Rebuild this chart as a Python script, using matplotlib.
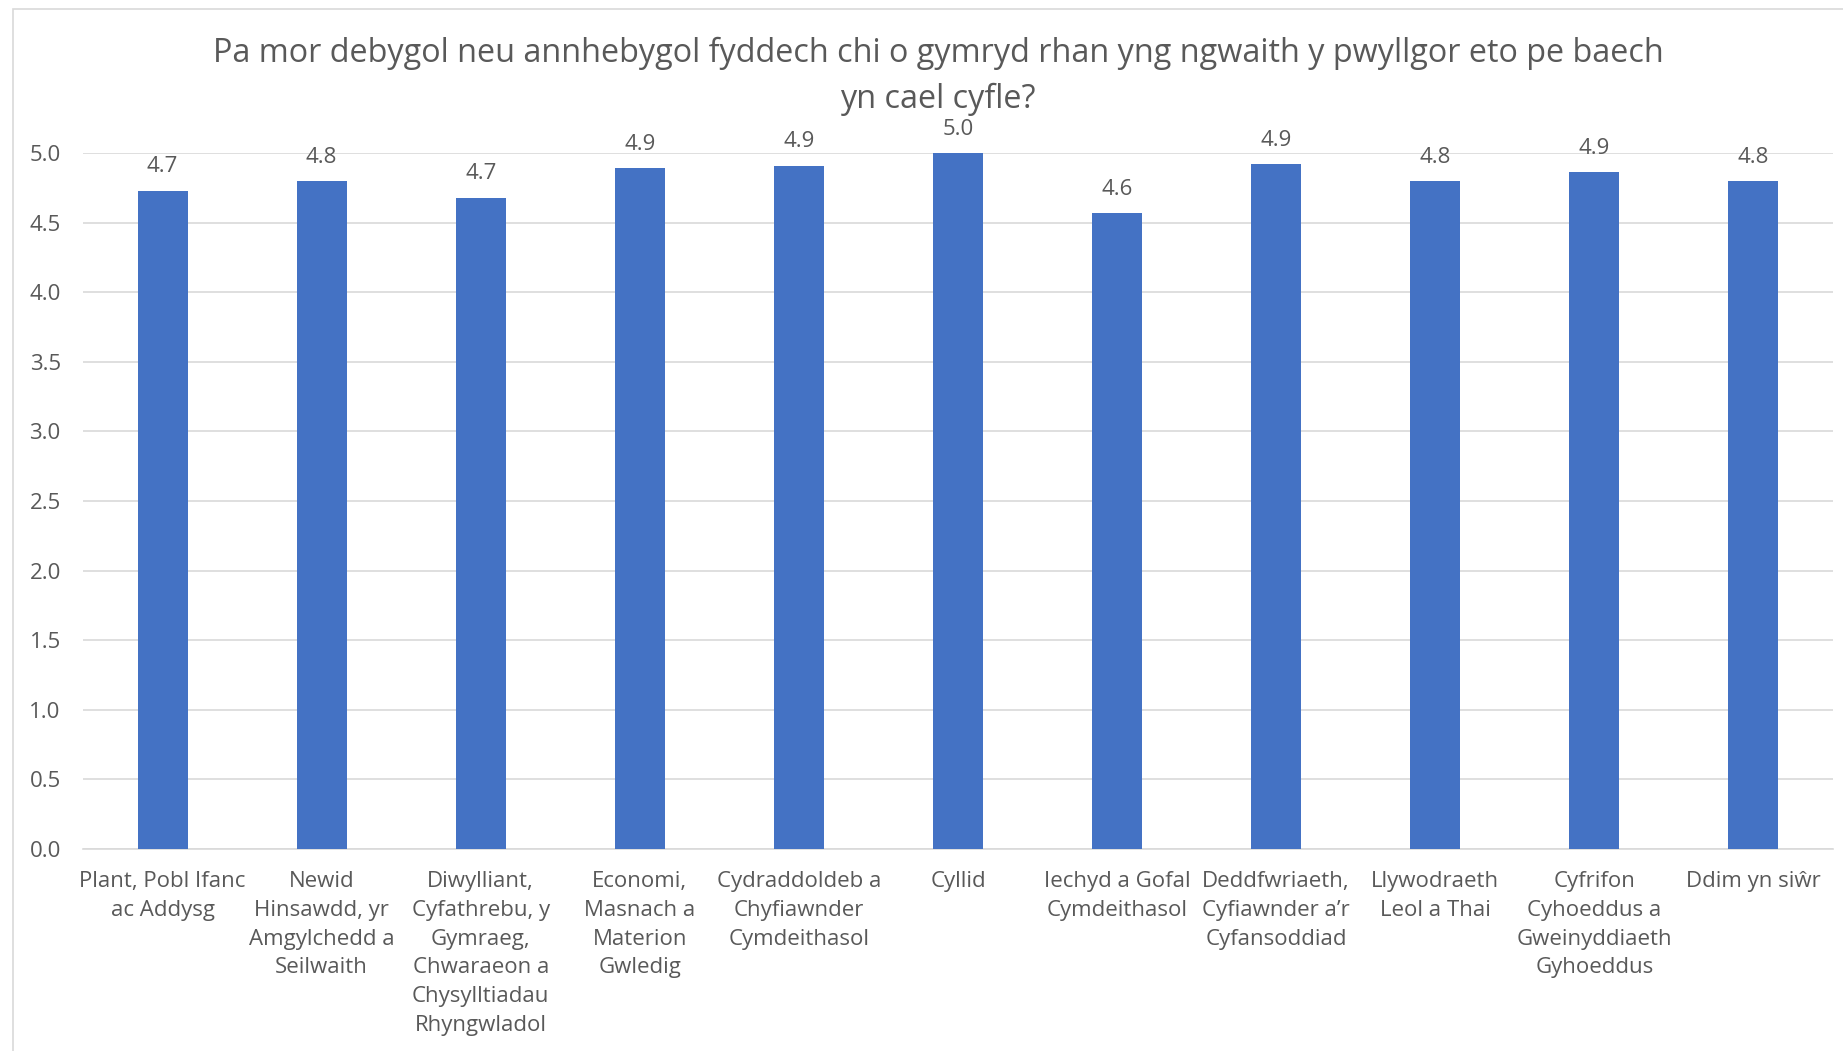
import matplotlib.pyplot as plt
from matplotlib.patches import Rectangle
import numpy as np

categories = [
    "Plant, Pobl Ifanc\nac Addysg",
    "Newid\nHinsawdd, yr\nAmgylchedd a\nSeilwaith",
    "Diwylliant,\nCyfathrebu, y\nGymraeg,\nChwaraeon a\nChysylltiadau\nRhyngwladol",
    "Economi,\nMasnach a\nMaterion\nGwledig",
    "Cydraddoldeb a\nChyfiawnder\nCymdeithasol",
    "Cyllid",
    "Iechyd a Gofal\nCymdeithasol",
    "Deddfwriaeth,\nCyfiawnder a\u2019r\nCyfansoddiad",
    "Llywodraeth\nLeol a Thai",
    "Cyfrifon\nCyhoeddus a\nGweinyddiaeth\nGyhoeddus",
    "Ddim yn si\u0175r",
]
values = [4.73, 4.80, 4.68, 4.89, 4.91, 5.00, 4.57, 4.92, 4.80, 4.86, 4.80]
yticks = np.arange(0, 5.01, 0.5)
title = ("Pa mor debygol neu annhebygol fyddech chi o gymryd rhan yng ngwaith y pwyllgor eto pe baech\n"
         "yn cael cyfle?")

txt = "#595959"
grid = "#d9d9d9"
plt.rcParams['font.family'] = ['Open Sans', 'DejaVu Sans']

W, H = 1843, 1051
fig = plt.figure(figsize=(W / 100, H / 100), dpi=100)
ax = fig.add_axes([83 / W, (H - 849) / H, 1750 / W, 696 / H])

x = np.arange(len(categories))
bars = ax.bar(x, values, width=0.314, color="#4472C4", zorder=3)
for b, v in zip(bars, values):
    ax.annotate("%.1f" % v, (b.get_x() + b.get_width() / 2, v), xytext=(0, 9.5),
                textcoords="offset points", ha="center", va="bottom",
                fontsize=16, color=txt)

ax.set_xlim(-0.5, len(categories) - 0.5)
ax.set_ylim(0, 5)
ax.set_yticks(yticks)
ax.set_yticklabels(["%.1f" % t for t in yticks])
ax.set_xticks(x)
ax.set_xticklabels(categories, fontsize=16, color=txt, linespacing=1.48, va="top")
ax.tick_params(axis="y", length=0, pad=16, labelsize=16, labelcolor=txt)
ax.tick_params(axis="x", length=0, pad=16)
ax.grid(axis="y", color=grid, linewidth=1.2, zorder=0)
for s in ["top", "right", "left"]:
    ax.spines[s].set_visible(False)
ax.spines["bottom"].set_color(grid)
ax.spines["bottom"].set_linewidth(1.2)

fig.text(938 / W, 1 - 76 / H, title, ha="center", va="center", fontsize=23.3,
         color=txt, linespacing=1.5)

fig.patches.append(Rectangle((13 / W, -0.1), 2, (H - 9) / H + 0.1,
                             transform=fig.transFigure, fill=False,
                             edgecolor=grid, linewidth=1.2))

fig.savefig("out.png", dpi=100, facecolor="white")
